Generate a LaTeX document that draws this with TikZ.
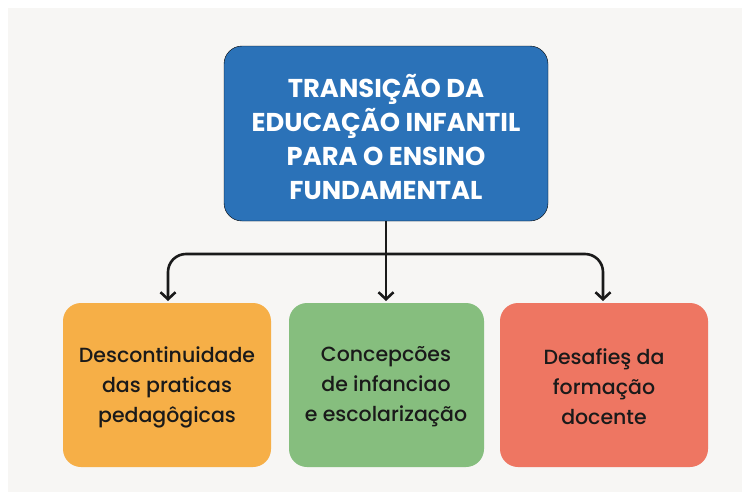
\documentclass[tikz,border=0pt]{standalone}
\usepackage{fontspec}
\setmainfont{Poppins}
\newfontfamily\popmed{Poppins Medium}
\usetikzlibrary{arrows.meta}
\definecolor{bgc}{HTML}{F7F6F4}
\definecolor{blueb}{HTML}{2B72B8}
\definecolor{orangeb}{HTML}{F6AF47}
\definecolor{greenb}{HTML}{86BE7E}
\definecolor{redb}{HTML}{EE7662}
\definecolor{ink}{HTML}{1A1A1A}
\tikzset{
  topbox/.style={fill=blueb, rounded corners=18pt, inner sep=0pt},
  subbox/.style={rounded corners=18pt, inner sep=0pt},
  toptext/.style={text=white, font=\fontsize{25.8}{34}\selectfont\bfseries, align=center},
  subtext/.style={text=ink, font=\popmed\fontsize{20.5}{30}\selectfont, align=center},
  conn/.style={draw=ink, line width=2.6pt, rounded corners=18pt, -{Straight Barb[length=7pt,width=15pt,line width=2.6pt]}}
}
\begin{document}
\begin{tikzpicture}[x=1pt,y=-1pt]
\useasboundingbox (0,0) rectangle (748,499);
\fill[white] (0,0) rectangle (748,499);
\fill[bgc] (8,8) rectangle (742,492);
% boxes
\draw[topbox] (224,46) rectangle (548,221);
\node[toptext] (top) at (386,137) {TRANSIÇÃO DA\\EDUCAÇÃO INFANTIL\\PARA O ENSINO\\FUNDAMENTAL};
\fill[subbox, fill=orangeb] (63,303) rectangle (271,467);
\fill[subbox, fill=greenb] (289,303) rectangle (484,467);
\fill[subbox, fill=redb] (500,303) rectangle (708,467);
\node[subtext] (a) at (167,387) {Descontinuidade\\das praticas\\pedagôgicas};
\node[subtext] (b) at (386,387) {Concepcões\\de infanciao\\e escolarização};
\node[subtext] (c) at (604,387) {Desafieş da\\formação\\docente};
\coordinate (topS) at (386,221);
\coordinate (aN) at (168,301);
\coordinate (bN) at (386,301);
\coordinate (cN) at (603,301);
\coordinate (junc) at (386,254);
\draw[conn] (topS) -- (bN);
\draw[conn] (junc) -| (aN);
\draw[conn] (junc) -| (cN);
\end{tikzpicture}
\end{document}
